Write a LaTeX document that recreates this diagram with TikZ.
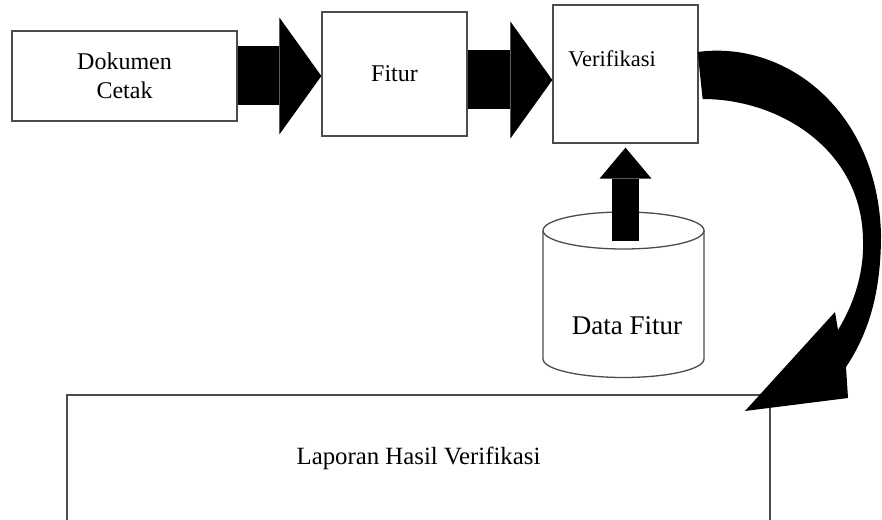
\documentclass[tikz,border=0pt]{standalone}
\usepackage{fontspec}
\setmainfont{Liberation Serif}
\usetikzlibrary{arrows.meta,positioning,calc}

\begin{document}
\begin{tikzpicture}[x=1pt, y=1pt,
    box/.style={draw=black!70, line width=1.3pt, fill=white, inner sep=0pt},
    lbl/.style={font=\fontsize{24}{29}\selectfont, align=center},
    fatarrow/.style={line width=59pt, -{Triangle[length=42pt, width=117pt, line width=0pt]}},
    uparrow/.style={line width=27pt, -{Triangle[length=31pt, width=52pt, line width=0pt]}}]
\useasboundingbox (0,0) rectangle (882,519);

% Process boxes
\node[box, lbl, minimum width=225pt, minimum height=90pt] (dok) at (124.5,443) {Dokumen\\Cetak};
\node[box, lbl, minimum width=145pt, minimum height=124pt] (fitur) at (394.5,445) {Fitur};
\node[box, minimum width=145pt, minimum height=138pt] (verif) at (625.5,445) {};
\node[lbl, font=\fontsize{22.5}{27}\selectfont, anchor=base] (veriftxt) at (612,452) {Verifikasi};

% Report box (runs off the page)
\begin{scope}
\clip (0,0) rectangle (882,519);
\node[box, lbl, font=\fontsize{24.8}{30}\selectfont, minimum width=703pt, minimum height=126pt] (lapor) at (418.5,61) {Laporan Hasil Verifikasi};
\end{scope}

% Database
\draw[black!70, line width=1.3pt, fill=white] (543,288.5) -- (543,160)
    arc[start angle=180, end angle=360, x radius=80.5pt, y radius=18.5pt] -- (704,288.5);
\draw[black!70, line width=1.3pt, fill=white] (623.5,288.5) ellipse [x radius=80.5pt, y radius=18.5pt];
\coordinate (dbtop) at (625.5,278);
\node[lbl, font=\fontsize{27}{32}\selectfont, anchor=base] (datafitur) at (627,184) {Data Fitur};

% Block arrows
\draw[fatarrow] (dok.east) -- (dok.east -| fitur.west);
\draw[fatarrow] ([yshift=-6pt]fitur.east) -- ([yshift=-6pt]fitur.east -| verif.west);
\draw[uparrow] (dbtop) -- ([yshift=-4pt]verif.south);

% Curved arrow to the report
\fill ($(verif.east)+(-1,22)$) .. controls (785,479) and (878,409) .. (881,284)
    .. controls (881,225) and (868,185) .. (846,152)
    -- (848,121) -- (745,108) -- (835,207) -- (838,189)
    .. controls (856,219) and (864,249) .. (863,279)
    .. controls (862,369) and (780,420) .. ($(verif.east)+(4,-25)$) -- cycle;
\end{tikzpicture}
\end{document}
